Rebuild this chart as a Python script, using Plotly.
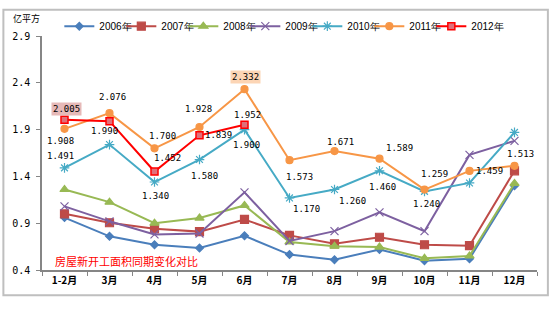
import plotly.graph_objects as go

months = ["1-2月", "3月", "4月", "5月", "6月", "7月", "8月", "9月", "10月", "11月", "12月"]
series_names = ["2006年", "2007年", "2008年", "2009年", "2010年", "2011年", "2012年"]

v2006 = [0.96, 0.76, 0.67, 0.635, 0.765, 0.565, 0.51, 0.62, 0.50, 0.52, 1.30]
v2007 = [1.00, 0.905, 0.84, 0.81, 0.94, 0.77, 0.68, 0.75, 0.67, 0.66, 1.46]
v2008 = [1.26, 1.125, 0.90, 0.955, 1.09, 0.70, 0.655, 0.645, 0.525, 0.55, 1.325]
v2009 = [1.08, 0.92, 0.78, 0.79, 1.23, 0.71, 0.815, 1.015, 0.815, 1.63, 1.78]
v2010 = [1.491, 1.74, 1.340, 1.580, 1.900, 1.170, 1.260, 1.460, 1.240, 1.33, 1.87]
v2011 = [1.908, 2.076, 1.700, 1.928, 2.332, 1.573, 1.671, 1.589, 1.259, 1.459, 1.513]
v2012 = [2.005, 1.990, 1.452, 1.839, 1.952]

y_ticks = [0.4, 0.9, 1.4, 1.9, 2.4, 2.9]
unit_label = "亿平方"
note_text = "房屋新开工面积同期变化对比"

values = [v2006, v2007, v2008, v2009, v2010, v2011, v2012]
colors = ["#4A7EBB", "#BE4B48", "#98B954", "#7D60A0", "#46AAC5", "#F79646", "#FF0000"]
symbols = ["diamond", "square", "triangle-up", "x-thin-open", "asterisk-open", "circle", "square"]
msizes = [6, 8, 8, 8, 8, 7, 7]

fig = go.Figure()
for k, (name, vals, c, s, ms) in enumerate(zip(series_names, values, colors, symbols, msizes)):
    marker = dict(symbol=s, size=ms, color=c, line=dict(color=c, width=1.2))
    if name == "2012年":
        marker = dict(symbol=s, size=ms, color="#E0707A", line=dict(color=c, width=1.5))
    fig.add_trace(go.Scatter(
        x=months[:len(vals)], y=vals, name=name, mode="lines+markers",
        line=dict(color=c, width=2), marker=marker,
        legendwidth=40 if k == len(series_names) - 1 else 17,
    ))

# data label offsets (style only): (dx, dy) px, None = no label
off2012 = [(2, 11), (-5, -10), (13, 14), (19, 0), (3, 10)]
off2011 = [(-4, -12), (3, 16), (8, 12), (-1, 18), (1, 12), (10, -17), (6, 9), (20, 11), (10, 16), (20, 0), (6, 12)]
off2010 = [(-4, 12), None, (1, -14), (5, -16), (2, -15), (17, -11), (18, -11), (3, -16), (2, -13), None, None]
label_bg = {("2012年", 0): "#E6B9B8", ("2011年", 4): "#FCD5B5"}

annotations = []
for name, vals, offs in [("2010年", v2010, off2010), ("2011年", v2011, off2011), ("2012年", v2012, off2012)]:
    for i, (v, o) in enumerate(zip(vals, offs)):
        if o is None:
            continue
        bg = label_bg.get((name, i))
        annotations.append(dict(
            x=months[i], y=v, xref="x", yref="y", text=f"{v:.3f}", showarrow=False,
            xshift=o[0], yshift=o[1],
            font=dict(family="DejaVu Sans Mono", size=9, color="#000000"),
            bgcolor=bg if bg else "rgba(0,0,0,0)", borderpad=1,
        ))

annotations.append(dict(
    x=-0.032, y=1.075, xref="paper", yref="paper", text=unit_label, showarrow=False,
    font=dict(family="Noto Sans CJK SC", size=9, color="#000000"), xanchor="center", yanchor="middle",
))
annotations.append(dict(
    x=0.023, y=0.04, xref="paper", yref="paper", text=note_text, showarrow=False,
    font=dict(family="Noto Sans CJK SC", size=11, color="#FF0000"), xanchor="left", yanchor="middle",
))

fig.update_layout(
    width=558, height=322,
    margin=dict(l=42, r=21, t=30, b=52),
    paper_bgcolor="#FFFFFF", plot_bgcolor="#FFFFFF",
    showlegend=True,
    legend=dict(
        orientation="h", x=0.035, y=1.042, xanchor="left", yanchor="middle",
        font=dict(family="Liberation Sans", size=10, color="#000000"),
        entrywidthmode="pixels", itemwidth=30,
        bgcolor="rgba(0,0,0,0)", tracegroupgap=0,
    ),
    annotations=annotations,
    shapes=[dict(
        type="rect", xref="paper", yref="paper",
        x0=-0.078, x1=1.022, y0=-0.108, y1=1.112,
        line=dict(color="#BFBFBF", width=2), fillcolor="rgba(0,0,0,0)", layer="below",
    )],
)

fig.update_xaxes(
    type="category", categoryorder="array", categoryarray=months, range=[-0.5, 10.5],
    showline=True, linecolor="#868686", linewidth=1.5, ticks="outside", tickson="boundaries",
    ticklen=4, tickcolor="#868686", showgrid=False, zeroline=False,
    tickfont=dict(family="Noto Sans CJK SC", size=10, color="#000000", weight="bold"),
)
fig.update_yaxes(
    range=[0.4, 2.9], tickvals=y_ticks, ticktext=[f"{t:.1f}" for t in y_ticks],
    showline=True, linecolor="#868686", linewidth=1.5, ticks="outside", ticklen=4,
    tickcolor="#868686", showgrid=False, zeroline=False, ticklabelstandoff=4,
    tickfont=dict(family="DejaVu Sans Mono", size=10, color="#000000"),
)

fig.write_html("out.html")
